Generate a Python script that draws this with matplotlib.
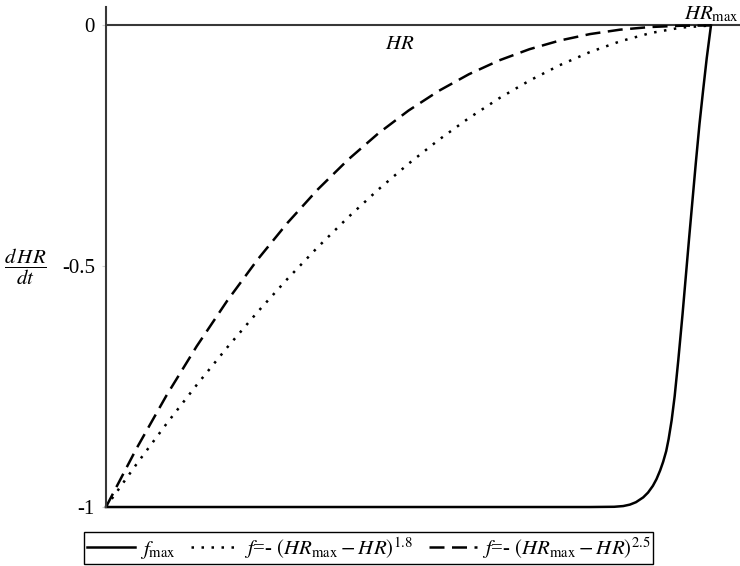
import matplotlib
matplotlib.use("Agg")
import matplotlib.pyplot as plt

# Data (HR normalised so that HR_max = 1)
hr = [0.00, 0.05, 0.10, 0.15, 0.20, 0.25, 0.30, 0.35, 0.40, 0.45, 0.50,
      0.55, 0.60, 0.65, 0.70, 0.75, 0.80, 0.85, 0.90, 0.95, 1.00]
f_18 = [-1.0, -0.9118, -0.8272, -0.7464, -0.6692, -0.5958, -0.5262, -0.4605, -0.3987, -0.3409, -0.2872,
        -0.2376, -0.1922, -0.1511, -0.1145, -0.0825, -0.0552, -0.0329, -0.0158, -0.0045, 0.0]
f_25 = [-1.0, -0.8796, -0.7684, -0.6661, -0.5724, -0.4871, -0.4100, -0.3406, -0.2789, -0.2243, -0.1768,
        -0.1359, -0.1012, -0.0725, -0.0493, -0.0313, -0.0179, -0.0087, -0.0032, -0.0006, 0.0]

hr_fmax = [0.0, 0.80, 0.84, 0.855, 0.866, 0.876, 0.888, 0.896, 0.904, 0.910, 0.916, 0.921,
           0.926, 0.930, 0.935, 0.940, 0.946, 0.953, 0.964, 0.975, 0.981, 0.987, 0.993, 1.0]
f_max = [-1.0, -1.0, -0.9995, -0.998, -0.995, -0.990, -0.980, -0.970, -0.956, -0.942, -0.924, -0.906,
         -0.884, -0.859, -0.820, -0.770, -0.695, -0.600, -0.440, -0.285, -0.205, -0.135, -0.068, 0.0]

y_ticks = [0, -0.5, -1]
y_tick_labels = ["0", "-0.5", "-1"]

plt.rcParams['font.family'] = 'Liberation Serif'
plt.rcParams['mathtext.fontset'] = 'stix'
plt.rcParams['font.size'] = 15

fig = plt.figure(figsize=(7.4, 5.66), dpi=100)
ax = fig.add_axes([0.1432, 0.1042, 0.8568, 0.884])

axis_col = '#383838'
l1, = ax.plot(hr_fmax, f_max, color='black', lw=1.8, clip_on=False)
l2, = ax.plot(hr, f_18, color='black', lw=1.8, linestyle=(0, (1, 3)), clip_on=False)
l3, = ax.plot(hr, f_25, color='black', lw=1.8, linestyle=(0, (6, 3)), clip_on=False)

ax.axhline(0, color=axis_col, lw=1.5, zorder=0)

ax.set_xlim(0, 1.048)
ax.set_ylim(-1, 0.039)
for s in ['top', 'right', 'bottom']:
    ax.spines[s].set_visible(False)
ax.spines['left'].set_color(axis_col)
ax.spines['left'].set_linewidth(1.5)

ax.set_xticks([])
ax.set_yticks(y_ticks)
ax.set_yticklabels(y_tick_labels)
ax.tick_params(axis='y', length=3, color='#d0d0d0', pad=5, labelsize=15)

ax.text(1.0, 0.002, r'$HR_{\mathrm{max}}$', ha='center', va='bottom', fontsize=15)
ax.text(0.486, -0.04, r'$HR$', ha='center', va='center', fontsize=15)
fig.text(0.034, 0.529, r'$\dfrac{d\,HR}{dt}$', ha='center', va='center', fontsize=15)

leg = fig.legend([l1, l2, l3],
                 [r'$f_{\mathrm{max}}$',
                  r'$f$=- $\left(HR_{\mathrm{max}} - HR\right)^{1.8}$',
                  r'$f$=- $\left(HR_{\mathrm{max}} - HR\right)^{2.5}$'],
                 loc='lower center', bbox_to_anchor=(0.498, 0.004), ncol=3,
                 fancybox=False, framealpha=1, edgecolor='black', fontsize=15,
                 handlelength=2.3, columnspacing=0.75, handletextpad=0.25,
                 borderpad=0.15, borderaxespad=0)
leg.get_frame().set_linewidth(1.0)

plt.savefig('out.png', dpi=100)
